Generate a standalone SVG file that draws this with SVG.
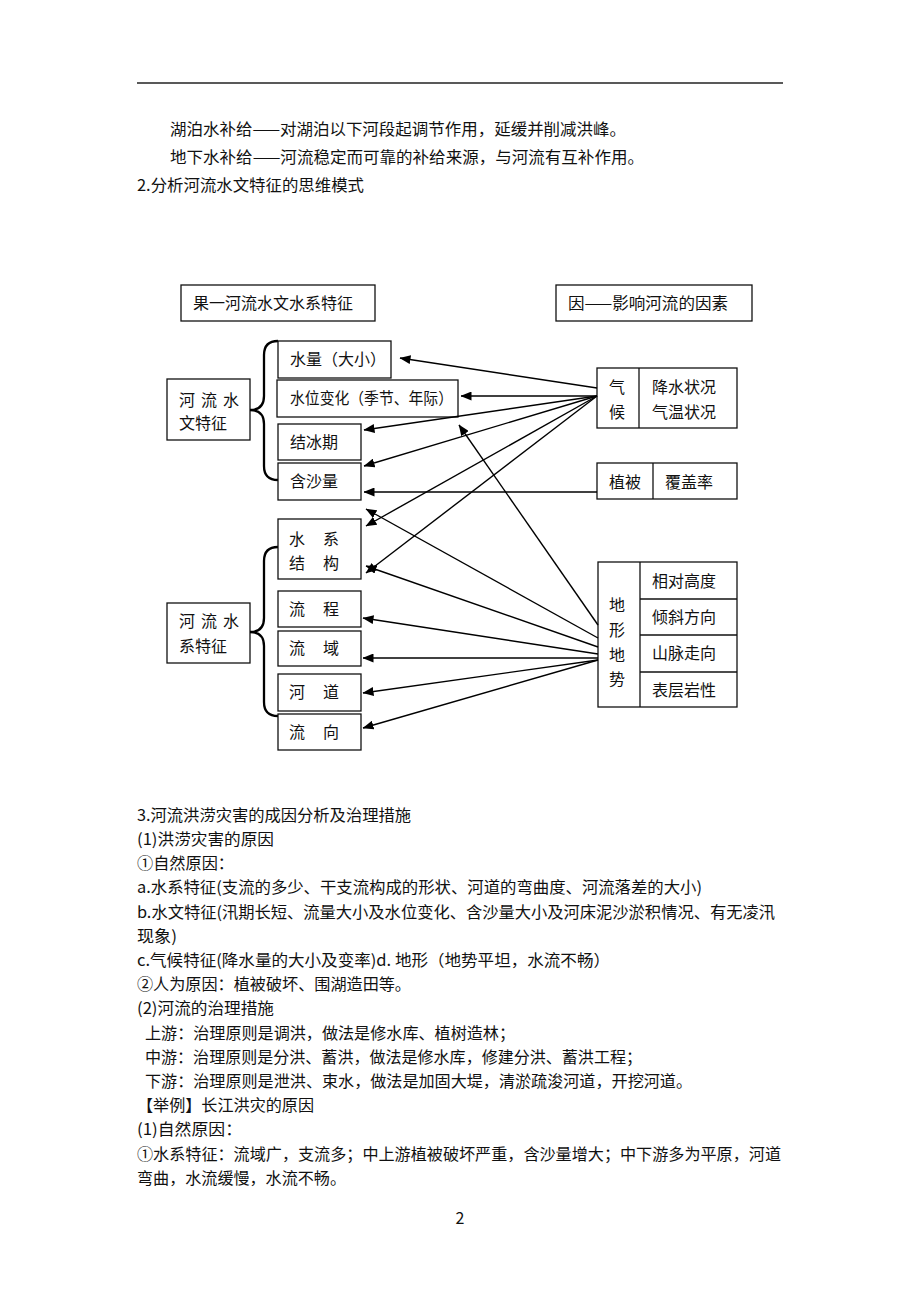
<svg xmlns="http://www.w3.org/2000/svg" width="920" height="1302" viewBox="0 0 920 1302">
<defs>
<marker id="ah" markerUnits="userSpaceOnUse" markerWidth="11" markerHeight="9" refX="10.5" refY="4.5" orient="auto">
<path d="M0,0 L11,4.5 L0,9 Z" fill="#000"/>
</marker>
</defs>
<style>
text{font-family:"Noto Sans CJK SC","Noto Sans",sans-serif;font-size:16px;fill:#111;}
.box{fill:#fff;stroke:#111;stroke-width:1.3;}
.div{stroke:#111;stroke-width:1.3;fill:none;}
.brace{fill:none;stroke:#000;stroke-width:2.3;}
.con line{stroke:#000;stroke-width:1.4;marker-end:url(#ah);}
</style>
<rect x="0" y="0" width="920" height="1302" fill="#fff"/>
<line x1="137" y1="83" x2="783" y2="83" stroke="#222" stroke-width="1.3"/>
<g id="page-text-top">
<text x="170" y="135" textLength="456" lengthAdjust="spacingAndGlyphs">湖泊水补给——对湖泊以下河段起调节作用，延缓并削减洪峰。</text>
<text x="170" y="163" textLength="474" lengthAdjust="spacingAndGlyphs">地下水补给——河流稳定而可靠的补给来源，与河流有互补作用。</text>
<text x="137" y="191" textLength="227" lengthAdjust="spacingAndGlyphs">2.分析河流水文特征的思维模式</text>
</g>

<g id="head-result"><rect class="box" x="181" y="285" width="194" height="36"/><text x="193" y="309" textLength="160" lengthAdjust="spacingAndGlyphs">果一河流水文水系特征</text></g>
<g id="head-cause"><rect class="box" x="556" y="285" width="196" height="36"/><text x="568" y="309" textLength="160" lengthAdjust="spacingAndGlyphs">因——影响河流的因素</text></g>

<g id="hydro-char"><rect class="box" x="167" y="379" width="83" height="61"/><text x="179 201 223" y="406">河流水</text><text x="179" y="429">文特征</text></g>
<g id="water-system-char"><rect class="box" x="167" y="603" width="83" height="60"/><text x="179 201 223" y="627">河流水</text><text x="179" y="652">系特征</text></g>

<g id="braces">
<path class="brace" d="M278,341 Q264,341 264,355 L264,396 Q264,410 250,410 Q264,410 264,424 L264,466 Q264,480 278,480"/>
<path class="brace" d="M278,547 Q264,547 264,561 L264,618 Q264,632 250,632 Q264,632 264,646 L264,702 Q264,716 278,716"/>
</g>

<g id="n-shuiliang"><rect class="box" x="278" y="341" width="113" height="37"/><text x="290" y="365">水量（大小）</text></g>
<g id="n-shuiwei"><rect class="box" x="277" y="380" width="181" height="37"/><text x="290" y="404" textLength="163" lengthAdjust="spacingAndGlyphs">水位变化（季节、年际）</text></g>
<g id="n-jiebingqi"><rect class="box" x="278" y="424" width="83" height="36"/><text x="290" y="448">结冰期</text></g>
<g id="n-hanshaliang"><rect class="box" x="278" y="463" width="83" height="37"/><text x="290" y="487">含沙量</text></g>
<g id="n-shuixi"><rect class="box" x="278" y="519" width="83" height="60"/><text x="289 323" y="545">水系</text><text x="289 323" y="569">结构</text></g>
<g id="n-liucheng"><rect class="box" x="278" y="591" width="83" height="36"/><text x="289 323" y="615">流程</text></g>
<g id="n-liuyu"><rect class="box" x="278" y="631" width="83" height="35"/><text x="289 323" y="654">流域</text></g>
<g id="n-hedao"><rect class="box" x="278" y="674" width="83" height="37"/><text x="289 323" y="698">河道</text></g>
<g id="n-liuxiang"><rect class="box" x="278" y="714" width="83" height="36"/><text x="289 323" y="738">流向</text></g>

<g id="f-climate"><rect class="box" x="597" y="368" width="140" height="60"/><line class="div" x1="639" y1="368" x2="639" y2="428"/><text x="609" y="393">气</text><text x="609" y="418">候</text><text x="652" y="393">降水状况</text><text x="652" y="418">气温状况</text></g>
<g id="f-vegetation"><rect class="box" x="597" y="463" width="140" height="36"/><line class="div" x1="653" y1="463" x2="653" y2="499"/><text x="609" y="488">植被</text><text x="665" y="488">覆盖率</text></g>
<g id="f-terrain"><rect class="box" x="598" y="562" width="139" height="145"/><line class="div" x1="640" y1="562" x2="640" y2="707"/><line class="div" x1="640" y1="599" x2="737" y2="599"/><line class="div" x1="640" y1="635" x2="737" y2="635"/><line class="div" x1="640" y1="672" x2="737" y2="672"/>
<text x="609" y="611">地</text><text x="609" y="636">形</text><text x="609" y="661">地</text><text x="609" y="685">势</text>
<text x="652" y="587">相对高度</text><text x="652" y="623">倾斜方向</text><text x="652" y="659">山脉走向</text><text x="652" y="696">表层岩性</text></g>

<g id="connectors" class="con">
<line x1="597" y1="388" x2="400" y2="358"/>
<line x1="597" y1="396" x2="461" y2="396"/>
<line x1="597" y1="396" x2="364" y2="430"/>
<line x1="597" y1="396" x2="364" y2="466"/>
<line x1="597" y1="492" x2="364" y2="492"/>
<line x1="597" y1="396" x2="366" y2="526"/>
<line x1="597" y1="396" x2="366" y2="573"/>
<line x1="598" y1="638" x2="366" y2="509"/>
<line x1="598" y1="625" x2="459" y2="425"/>
<line x1="598" y1="647" x2="366" y2="566"/>
<line x1="598" y1="654" x2="363" y2="618"/>
<line x1="598" y1="658" x2="363" y2="658"/>
<line x1="598" y1="660" x2="363" y2="693"/>
<line x1="598" y1="660" x2="363" y2="728"/>
</g>

<g id="page-text-bottom">
<text x="137" y="821" textLength="274" lengthAdjust="spacingAndGlyphs">3.河流洪涝灾害的成因分析及治理措施</text>
<text x="137" y="845" textLength="137" lengthAdjust="spacingAndGlyphs">(1)洪涝灾害的原因</text>
<text x="137" y="869" textLength="97" lengthAdjust="spacingAndGlyphs">①自然原因：</text>
<text x="137" y="893" textLength="565" lengthAdjust="spacingAndGlyphs">a.水系特征(支流的多少、干支流构成的形状、河道的弯曲度、河流落差的大小)</text>
<text x="137" y="918" textLength="638" lengthAdjust="spacingAndGlyphs">b.水文特征(汛期长短、流量大小及水位变化、含沙量大小及河床泥沙淤积情况、有无凌汛</text>
<text x="137" y="942" textLength="40" lengthAdjust="spacingAndGlyphs">现象)</text>
<text x="137" y="966" textLength="473" lengthAdjust="spacingAndGlyphs">c.气候特征(降水量的大小及变率)d. 地形（地势平坦，水流不畅）</text>
<text x="137" y="990" textLength="274" lengthAdjust="spacingAndGlyphs">②人为原因：植被破坏、围湖造田等。</text>
<text x="137" y="1014" textLength="137" lengthAdjust="spacingAndGlyphs">(2)河流的治理措施</text>
<text x="145" y="1039" textLength="370" lengthAdjust="spacingAndGlyphs">上游：治理原则是调洪，做法是修水库、植树造林；</text>
<text x="145" y="1063" textLength="497" lengthAdjust="spacingAndGlyphs">中游：治理原则是分洪、蓄洪，做法是修水库，修建分洪、蓄洪工程；</text>
<text x="145" y="1087" textLength="547" lengthAdjust="spacingAndGlyphs">下游：治理原则是泄洪、束水，做法是加固大堤，清淤疏浚河道，开挖河道。</text>
<text x="137" y="1111" textLength="177" lengthAdjust="spacingAndGlyphs">【举例】长江洪灾的原因</text>
<text x="137" y="1135" textLength="105" lengthAdjust="spacingAndGlyphs">(1)自然原因：</text>
<text x="137" y="1160" textLength="644" lengthAdjust="spacingAndGlyphs">①水系特征：流域广，支流多；中上游植被破坏严重，含沙量增大；中下游多为平原，河道</text>
<text x="137" y="1184" textLength="209" lengthAdjust="spacingAndGlyphs">弯曲，水流缓慢，水流不畅。</text>
<text x="460" y="1224" text-anchor="middle">2</text>
</g>
</svg>
